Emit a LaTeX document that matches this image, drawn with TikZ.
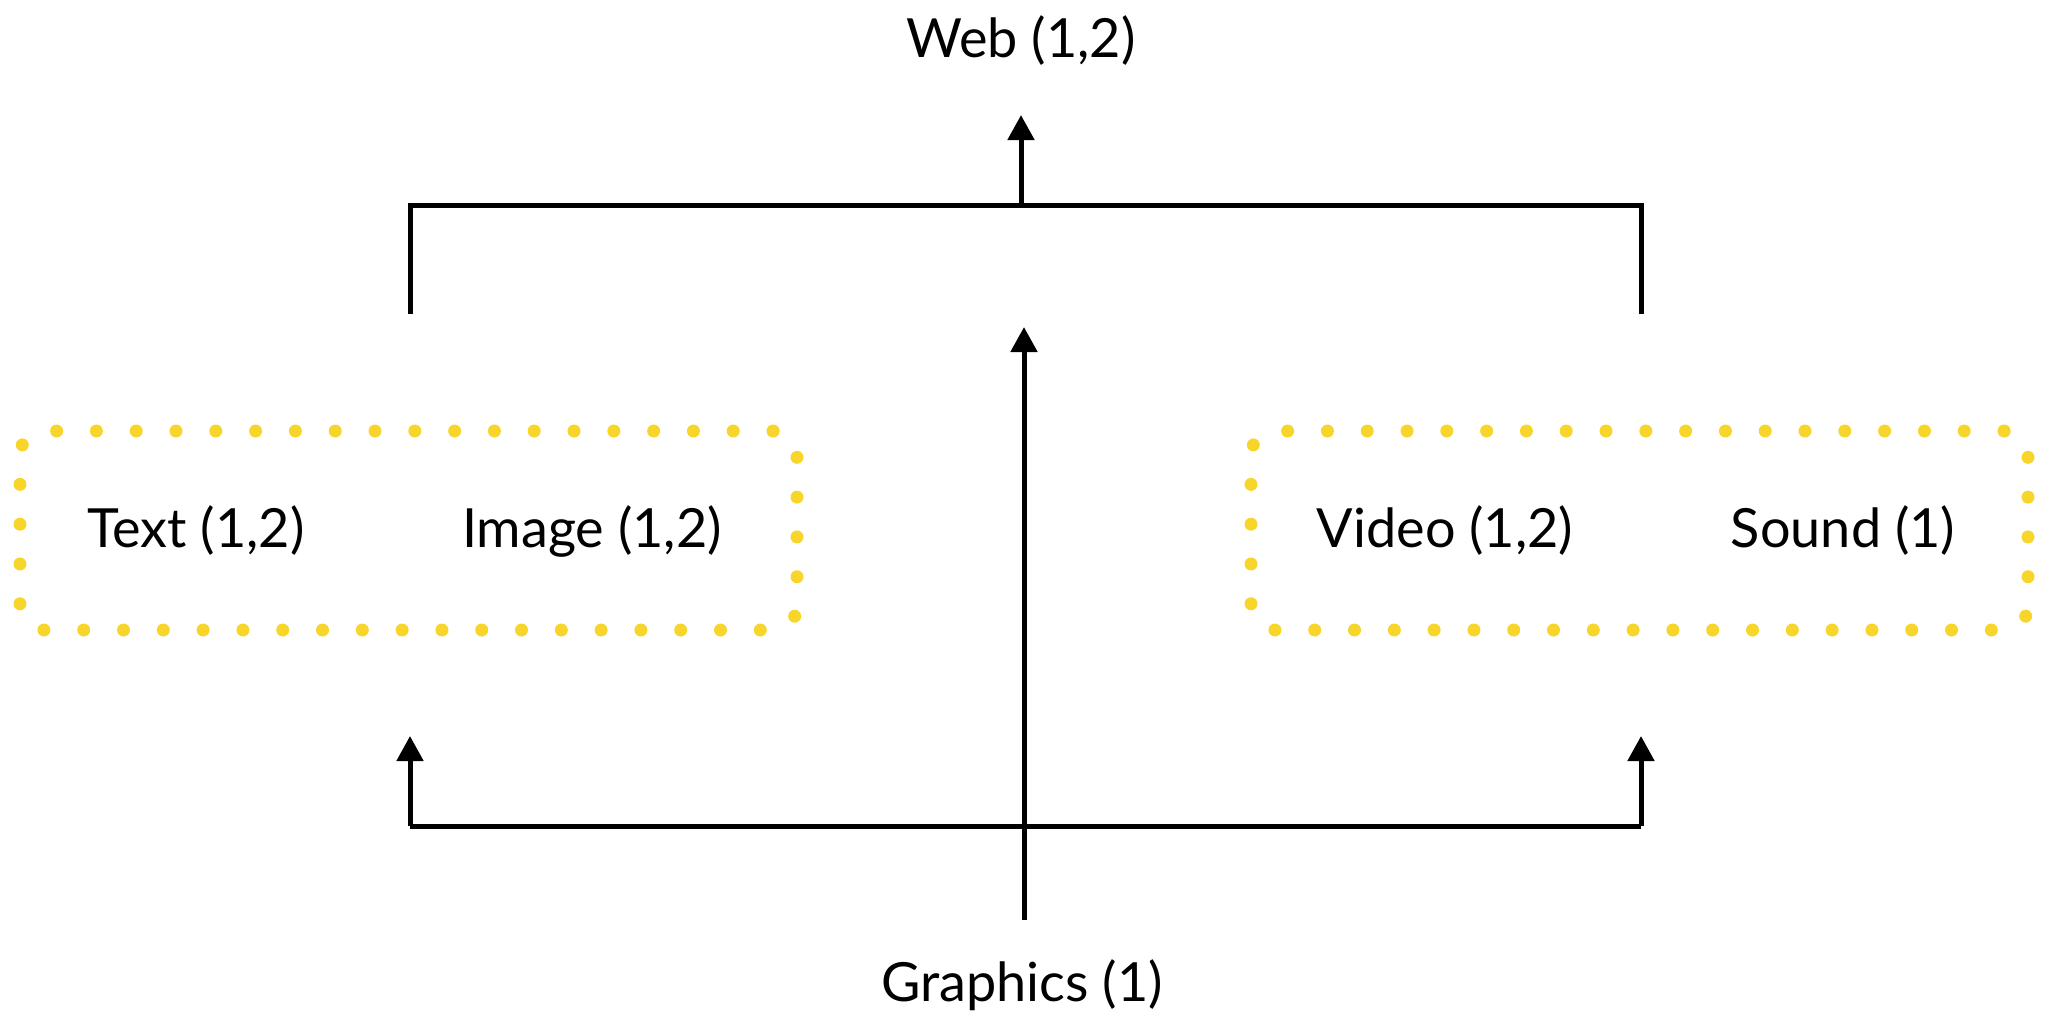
\documentclass[tikz,border=0pt]{standalone}
\usepackage{fontspec}
\setmainfont{Lato}
\usetikzlibrary{arrows.meta}
\definecolor{dotyellow}{RGB}{247,213,42}
\begin{document}
\begin{tikzpicture}[x=0.5pt,y=-0.5pt,
  lbl/.style={font=\fontsize{27pt}{32pt}\selectfont, inner sep=0pt, anchor=base},
  dotbox/.style={draw=dotyellow, line width=6.5pt, line cap=round,
     dash pattern=on 0pt off 19.9pt, rounded corners=12pt,
     minimum width=388.5pt, minimum height=99.5pt, inner sep=0pt},
  conn/.style={line width=2.5pt},
  arr/.style={conn, -{Triangle[width=13pt,length=12.5pt]}}]
\useasboundingbox (0,0) rectangle (2050,1024);
% boxes
\node[dotbox] (leftbox) at (408.5,530.5) {};
\node[dotbox] (rightbox) at (1639.5,530.5) {};
% labels
\node[lbl] (web) at (1021,57) {Web (1,2)};
\node[lbl] (graphics) at (1022,1001) {Graphics (1)};
\node[lbl] (text) at (196,547) {Text (1,2)};
\node[lbl] (image) at (592,547) {Image (1,2)};
\node[lbl] (video) at (1445,547) {Video (1,2)};
\node[lbl] (sound) at (1843,547) {Sound (1)};
% coordinates
\coordinate (tl) at (410,314);
\coordinate (tlc) at (410,205);
\coordinate (trc) at (1641,205);
\coordinate (tr) at (1641,314);
\coordinate (tm) at (1021,205);
\coordinate (webin) at (1021,115);
\coordinate (gtop) at (1024,327);
\coordinate (gbot) at (1024,920);
\coordinate (bm) at (1024,826);
\coordinate (bl) at (410,826);
\coordinate (br) at (1641,826);
\coordinate (blt) at (410,736);
\coordinate (brt) at (1641,736);
% connectors
\draw[conn] (tl) -- (tlc) -- (trc) -- (tr);
\draw[arr] (tm) -- (webin);
\draw[arr] (gbot) -- (gtop);
\draw[conn] (bl) -- (br);
\draw[arr] (bl) -- (blt);
\draw[arr] (br) -- (brt);
\end{tikzpicture}
\end{document}
